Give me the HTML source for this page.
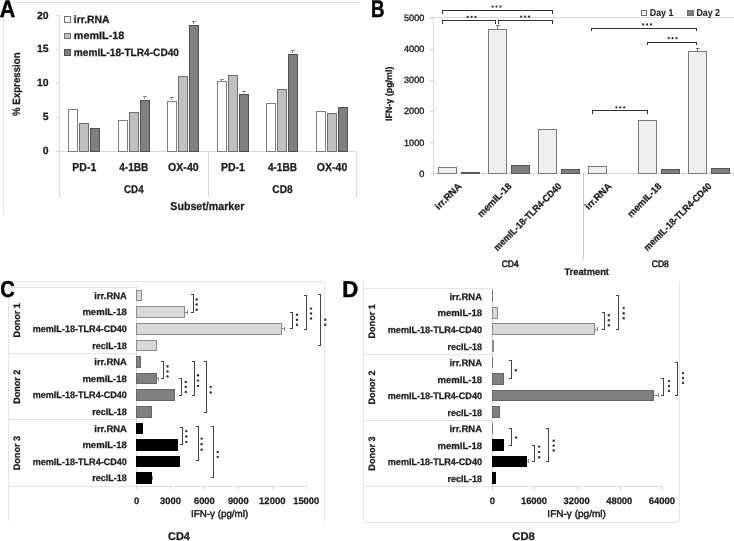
<!DOCTYPE html>
<html><head><meta charset="utf-8"><style>
html,body{margin:0;padding:0;background:#fff;}
body{width:734px;height:541px;overflow:hidden;}
svg{display:block;filter:blur(0.3px);font-family:"Liberation Sans", sans-serif;}
</style></head><body>
<svg width="734" height="541" viewBox="0 0 734 541" shape-rendering="crispEdges" text-rendering="geometricPrecision">
<rect width="734" height="541" fill="#fff"/>
<line x1="3.50" y1="2.50" x2="360.00" y2="2.50" stroke="#e4e4e4" stroke-width="1"/>
<line x1="3.50" y1="2.50" x2="3.50" y2="215.00" stroke="#e4e4e4" stroke-width="1"/>
<line x1="59.50" y1="15.30" x2="59.50" y2="151.10" stroke="#d9d9d9" stroke-width="1"/>
<line x1="55.50" y1="151.10" x2="59.50" y2="151.10" stroke="#d9d9d9" stroke-width="1"/>
<text x="48.60" y="154.30" font-size="10.4" font-weight="bold" text-anchor="end" fill="#1a1a1a" stroke="#1a1a1a" stroke-width="0.25">0</text>
<line x1="55.50" y1="117.15" x2="59.50" y2="117.15" stroke="#d9d9d9" stroke-width="1"/>
<text x="48.60" y="120.35" font-size="10.4" font-weight="bold" text-anchor="end" fill="#1a1a1a" stroke="#1a1a1a" stroke-width="0.25">5</text>
<line x1="55.50" y1="83.20" x2="59.50" y2="83.20" stroke="#d9d9d9" stroke-width="1"/>
<text x="48.60" y="86.40" font-size="10.4" font-weight="bold" text-anchor="end" fill="#1a1a1a" stroke="#1a1a1a" stroke-width="0.25">10</text>
<line x1="55.50" y1="49.25" x2="59.50" y2="49.25" stroke="#d9d9d9" stroke-width="1"/>
<text x="48.60" y="52.45" font-size="10.4" font-weight="bold" text-anchor="end" fill="#1a1a1a" stroke="#1a1a1a" stroke-width="0.25">15</text>
<line x1="55.50" y1="15.30" x2="59.50" y2="15.30" stroke="#d9d9d9" stroke-width="1"/>
<text x="48.60" y="18.50" font-size="10.4" font-weight="bold" text-anchor="end" fill="#1a1a1a" stroke="#1a1a1a" stroke-width="0.25">20</text>
<line x1="55.50" y1="151.10" x2="356.80" y2="151.10" stroke="#d9d9d9" stroke-width="1"/>
<line x1="59.50" y1="151.10" x2="59.50" y2="196.50" stroke="#d9d9d9" stroke-width="1"/>
<line x1="208.15" y1="151.10" x2="208.15" y2="196.50" stroke="#d9d9d9" stroke-width="1"/>
<line x1="356.80" y1="151.10" x2="356.80" y2="196.50" stroke="#d9d9d9" stroke-width="1"/>
<rect x="68.50" y="109.50" width="9.00" height="41.60" fill="#ffffff" stroke="#7f7f7f" stroke-width="1"/>
<rect x="79.50" y="123.50" width="9.00" height="27.60" fill="#c0c0c0" stroke="#6f6f6f" stroke-width="1"/>
<rect x="90.50" y="128.50" width="9.00" height="22.60" fill="#808080" stroke="#505050" stroke-width="1"/>
<rect x="118.50" y="120.50" width="9.00" height="30.60" fill="#ffffff" stroke="#7f7f7f" stroke-width="1"/>
<rect x="129.50" y="112.50" width="9.00" height="38.60" fill="#c0c0c0" stroke="#6f6f6f" stroke-width="1"/>
<rect x="140.50" y="100.50" width="9.00" height="50.60" fill="#808080" stroke="#505050" stroke-width="1"/>
<line x1="144.85" y1="96.46" x2="144.85" y2="99.17" stroke="#8a8a8a" stroke-width="1"/>
<line x1="142.65" y1="96.46" x2="147.05" y2="96.46" stroke="#8a8a8a" stroke-width="1"/>
<rect x="167.50" y="101.50" width="9.00" height="49.60" fill="#ffffff" stroke="#7f7f7f" stroke-width="1"/>
<line x1="171.85" y1="97.48" x2="171.85" y2="100.19" stroke="#8a8a8a" stroke-width="1"/>
<line x1="169.65" y1="97.48" x2="174.05" y2="97.48" stroke="#8a8a8a" stroke-width="1"/>
<rect x="178.50" y="76.50" width="9.00" height="74.60" fill="#c0c0c0" stroke="#6f6f6f" stroke-width="1"/>
<rect x="189.50" y="25.50" width="9.00" height="125.60" fill="#808080" stroke="#505050" stroke-width="1"/>
<line x1="193.85" y1="21.43" x2="193.85" y2="24.48" stroke="#8a8a8a" stroke-width="1"/>
<line x1="191.65" y1="21.43" x2="196.05" y2="21.43" stroke="#8a8a8a" stroke-width="1"/>
<rect x="217.50" y="81.50" width="9.00" height="69.60" fill="#ffffff" stroke="#7f7f7f" stroke-width="1"/>
<line x1="221.85" y1="79.14" x2="221.85" y2="80.84" stroke="#8a8a8a" stroke-width="1"/>
<line x1="219.65" y1="79.14" x2="224.05" y2="79.14" stroke="#8a8a8a" stroke-width="1"/>
<rect x="228.50" y="75.50" width="9.00" height="75.60" fill="#c0c0c0" stroke="#6f6f6f" stroke-width="1"/>
<rect x="239.50" y="94.50" width="9.00" height="56.60" fill="#808080" stroke="#505050" stroke-width="1"/>
<line x1="243.85" y1="91.37" x2="243.85" y2="93.06" stroke="#8a8a8a" stroke-width="1"/>
<line x1="241.65" y1="91.37" x2="246.05" y2="91.37" stroke="#8a8a8a" stroke-width="1"/>
<rect x="266.50" y="103.50" width="9.00" height="47.60" fill="#ffffff" stroke="#7f7f7f" stroke-width="1"/>
<rect x="277.50" y="89.50" width="9.00" height="61.60" fill="#c0c0c0" stroke="#6f6f6f" stroke-width="1"/>
<rect x="288.50" y="54.50" width="9.00" height="96.60" fill="#808080" stroke="#505050" stroke-width="1"/>
<line x1="292.85" y1="50.97" x2="292.85" y2="53.00" stroke="#8a8a8a" stroke-width="1"/>
<line x1="290.65" y1="50.97" x2="295.05" y2="50.97" stroke="#8a8a8a" stroke-width="1"/>
<rect x="316.50" y="111.50" width="9.00" height="39.60" fill="#ffffff" stroke="#7f7f7f" stroke-width="1"/>
<rect x="327.50" y="113.50" width="9.00" height="37.60" fill="#c0c0c0" stroke="#6f6f6f" stroke-width="1"/>
<rect x="338.50" y="107.50" width="9.00" height="43.60" fill="#808080" stroke="#505050" stroke-width="1"/>
<text x="84.28" y="170.60" font-size="11.6" font-weight="bold" text-anchor="middle" fill="#1a1a1a" textLength="23.90" lengthAdjust="spacingAndGlyphs" stroke="#1a1a1a" stroke-width="0.25">PD-1</text>
<text x="133.82" y="170.60" font-size="11.6" font-weight="bold" text-anchor="middle" fill="#1a1a1a" textLength="29.20" lengthAdjust="spacingAndGlyphs" stroke="#1a1a1a" stroke-width="0.25">4-1BB</text>
<text x="183.38" y="170.60" font-size="11.6" font-weight="bold" text-anchor="middle" fill="#1a1a1a" textLength="30.60" lengthAdjust="spacingAndGlyphs" stroke="#1a1a1a" stroke-width="0.25">OX-40</text>
<text x="232.92" y="170.60" font-size="11.6" font-weight="bold" text-anchor="middle" fill="#1a1a1a" textLength="23.90" lengthAdjust="spacingAndGlyphs" stroke="#1a1a1a" stroke-width="0.25">PD-1</text>
<text x="282.48" y="170.60" font-size="11.6" font-weight="bold" text-anchor="middle" fill="#1a1a1a" textLength="29.20" lengthAdjust="spacingAndGlyphs" stroke="#1a1a1a" stroke-width="0.25">4-1BB</text>
<text x="332.02" y="170.60" font-size="11.6" font-weight="bold" text-anchor="middle" fill="#1a1a1a" textLength="30.60" lengthAdjust="spacingAndGlyphs" stroke="#1a1a1a" stroke-width="0.25">OX-40</text>
<text x="133.82" y="193.10" font-size="11.2" font-weight="bold" text-anchor="middle" fill="#1a1a1a" textLength="19.50" lengthAdjust="spacingAndGlyphs" stroke="#1a1a1a" stroke-width="0.25">CD4</text>
<text x="282.48" y="193.10" font-size="11.2" font-weight="bold" text-anchor="middle" fill="#1a1a1a" textLength="20.30" lengthAdjust="spacingAndGlyphs" stroke="#1a1a1a" stroke-width="0.25">CD8</text>
<text x="207.30" y="210.10" font-size="11.4" font-weight="bold" text-anchor="middle" fill="#1a1a1a" textLength="74.00" lengthAdjust="spacingAndGlyphs" stroke="#1a1a1a" stroke-width="0.25">Subset/marker</text>
<text x="19.60" y="84.20" font-size="10.6" font-weight="bold" text-anchor="middle" fill="#1a1a1a" textLength="63.50" lengthAdjust="spacingAndGlyphs" transform="rotate(-90 19.60 84.20)" stroke="#1a1a1a" stroke-width="0.25">% Expression</text>
<rect x="64.70" y="16.40" width="5.60" height="5.60" fill="#ffffff" stroke="#6f6f6f" stroke-width="1"/>
<text x="73.80" y="22.70" font-size="10.6" font-weight="bold" text-anchor="start" fill="#1a1a1a" textLength="35.80" lengthAdjust="spacingAndGlyphs" stroke="#1a1a1a" stroke-width="0.25">irr.RNA</text>
<rect x="64.70" y="33.15" width="5.60" height="5.60" fill="#c0c0c0" stroke="#6f6f6f" stroke-width="1"/>
<text x="73.80" y="39.45" font-size="10.6" font-weight="bold" text-anchor="start" fill="#1a1a1a" textLength="50.50" lengthAdjust="spacingAndGlyphs" stroke="#1a1a1a" stroke-width="0.25">memIL-18</text>
<rect x="64.70" y="49.90" width="5.60" height="5.60" fill="#808080" stroke="#505050" stroke-width="1"/>
<text x="73.80" y="56.20" font-size="10.6" font-weight="bold" text-anchor="start" fill="#1a1a1a" textLength="105.20" lengthAdjust="spacingAndGlyphs" stroke="#1a1a1a" stroke-width="0.25">memIL-18-TLR4-CD40</text>
<line x1="430.00" y1="17.80" x2="734.00" y2="17.80" stroke="#d9d9d9" stroke-width="1"/>
<line x1="433.80" y1="17.80" x2="433.80" y2="173.30" stroke="#d9d9d9" stroke-width="1"/>
<line x1="429.80" y1="173.30" x2="433.80" y2="173.30" stroke="#d9d9d9" stroke-width="1"/>
<text x="424.30" y="176.60" font-size="9.2" font-weight="normal" text-anchor="end" fill="#1a1a1a" stroke="#1a1a1a" stroke-width="0.35">0</text>
<line x1="429.80" y1="142.24" x2="433.80" y2="142.24" stroke="#d9d9d9" stroke-width="1"/>
<text x="424.30" y="145.54" font-size="9.2" font-weight="normal" text-anchor="end" fill="#1a1a1a" textLength="20.30" lengthAdjust="spacingAndGlyphs" stroke="#1a1a1a" stroke-width="0.35">1000</text>
<line x1="429.80" y1="111.18" x2="433.80" y2="111.18" stroke="#d9d9d9" stroke-width="1"/>
<text x="424.30" y="114.48" font-size="9.2" font-weight="normal" text-anchor="end" fill="#1a1a1a" textLength="20.30" lengthAdjust="spacingAndGlyphs" stroke="#1a1a1a" stroke-width="0.35">2000</text>
<line x1="429.80" y1="80.12" x2="433.80" y2="80.12" stroke="#d9d9d9" stroke-width="1"/>
<text x="424.30" y="83.42" font-size="9.2" font-weight="normal" text-anchor="end" fill="#1a1a1a" textLength="20.30" lengthAdjust="spacingAndGlyphs" stroke="#1a1a1a" stroke-width="0.35">3000</text>
<line x1="429.80" y1="49.06" x2="433.80" y2="49.06" stroke="#d9d9d9" stroke-width="1"/>
<text x="424.30" y="52.36" font-size="9.2" font-weight="normal" text-anchor="end" fill="#1a1a1a" textLength="20.30" lengthAdjust="spacingAndGlyphs" stroke="#1a1a1a" stroke-width="0.35">4000</text>
<line x1="429.80" y1="18.00" x2="433.80" y2="18.00" stroke="#d9d9d9" stroke-width="1"/>
<text x="424.30" y="21.30" font-size="9.2" font-weight="normal" text-anchor="end" fill="#1a1a1a" textLength="20.30" lengthAdjust="spacingAndGlyphs" stroke="#1a1a1a" stroke-width="0.35">5000</text>
<line x1="431.00" y1="173.30" x2="734.00" y2="173.30" stroke="#d9d9d9" stroke-width="1"/>
<line x1="433.80" y1="173.30" x2="433.80" y2="176.30" stroke="#d9d9d9" stroke-width="1"/>
<line x1="483.80" y1="173.30" x2="483.80" y2="176.30" stroke="#d9d9d9" stroke-width="1"/>
<line x1="533.80" y1="173.30" x2="533.80" y2="176.30" stroke="#d9d9d9" stroke-width="1"/>
<line x1="583.80" y1="173.30" x2="583.80" y2="260.00" stroke="#c8c8c8" stroke-width="1"/>
<line x1="633.80" y1="173.30" x2="633.80" y2="176.30" stroke="#d9d9d9" stroke-width="1"/>
<line x1="683.80" y1="173.30" x2="683.80" y2="176.30" stroke="#d9d9d9" stroke-width="1"/>
<line x1="733.80" y1="173.30" x2="733.80" y2="176.30" stroke="#d9d9d9" stroke-width="1"/>
<rect x="438.90" y="167.90" width="17.80" height="5.40" fill="#f0f0f0" stroke="#7a7a7a" stroke-width="1"/>
<rect x="461.70" y="172.56" width="17.80" height="0.74" fill="#7f7f7f" stroke="#555555" stroke-width="1"/>
<rect x="488.90" y="29.68" width="17.80" height="143.62" fill="#f0f0f0" stroke="#7a7a7a" stroke-width="1"/>
<line x1="497.80" y1="25.77" x2="497.80" y2="29.18" stroke="#777" stroke-width="1"/>
<line x1="495.60" y1="25.77" x2="500.00" y2="25.77" stroke="#777" stroke-width="1"/>
<rect x="511.70" y="165.72" width="17.80" height="7.58" fill="#7f7f7f" stroke="#555555" stroke-width="1"/>
<rect x="538.90" y="129.91" width="17.80" height="43.39" fill="#f0f0f0" stroke="#7a7a7a" stroke-width="1"/>
<rect x="561.70" y="169.61" width="17.80" height="3.69" fill="#7f7f7f" stroke="#555555" stroke-width="1"/>
<rect x="588.90" y="166.59" width="17.80" height="6.71" fill="#f0f0f0" stroke="#7a7a7a" stroke-width="1"/>
<rect x="638.90" y="120.90" width="17.80" height="52.40" fill="#f0f0f0" stroke="#7a7a7a" stroke-width="1"/>
<rect x="661.70" y="169.70" width="17.80" height="3.60" fill="#7f7f7f" stroke="#555555" stroke-width="1"/>
<rect x="688.90" y="51.80" width="17.80" height="121.50" fill="#f0f0f0" stroke="#7a7a7a" stroke-width="1"/>
<line x1="697.80" y1="48.50" x2="697.80" y2="51.30" stroke="#777" stroke-width="1"/>
<line x1="695.60" y1="48.50" x2="700.00" y2="48.50" stroke="#777" stroke-width="1"/>
<rect x="711.70" y="168.30" width="17.80" height="5.00" fill="#7f7f7f" stroke="#555555" stroke-width="1"/>
<text x="462.10" y="186.90" font-size="9.6" font-weight="bold" text-anchor="end" fill="#1a1a1a" textLength="33.00" lengthAdjust="spacingAndGlyphs" transform="rotate(-45 462.10 186.90)" stroke="#1a1a1a" stroke-width="0.25">irr.RNA</text>
<text x="512.10" y="186.90" font-size="9.6" font-weight="bold" text-anchor="end" fill="#1a1a1a" textLength="43.50" lengthAdjust="spacingAndGlyphs" transform="rotate(-45 512.10 186.90)" stroke="#1a1a1a" stroke-width="0.25">memIL-18</text>
<text x="562.10" y="186.90" font-size="9.6" font-weight="bold" text-anchor="end" fill="#1a1a1a" textLength="91.20" lengthAdjust="spacingAndGlyphs" transform="rotate(-45 562.10 186.90)" stroke="#1a1a1a" stroke-width="0.25">memIL-18-TLR4-CD40</text>
<text x="612.10" y="186.90" font-size="9.6" font-weight="bold" text-anchor="end" fill="#1a1a1a" textLength="33.00" lengthAdjust="spacingAndGlyphs" transform="rotate(-45 612.10 186.90)" stroke="#1a1a1a" stroke-width="0.25">irr.RNA</text>
<text x="662.10" y="186.90" font-size="9.6" font-weight="bold" text-anchor="end" fill="#1a1a1a" textLength="43.50" lengthAdjust="spacingAndGlyphs" transform="rotate(-45 662.10 186.90)" stroke="#1a1a1a" stroke-width="0.25">memIL-18</text>
<text x="712.10" y="186.90" font-size="9.6" font-weight="bold" text-anchor="end" fill="#1a1a1a" textLength="91.20" lengthAdjust="spacingAndGlyphs" transform="rotate(-45 712.10 186.90)" stroke="#1a1a1a" stroke-width="0.25">memIL-18-TLR4-CD40</text>
<text x="510.20" y="267.20" font-size="9.4" font-weight="normal" text-anchor="middle" fill="#1a1a1a" textLength="16.80" lengthAdjust="spacingAndGlyphs" stroke="#1a1a1a" stroke-width="0.55">CD4</text>
<text x="660.30" y="267.00" font-size="9.4" font-weight="normal" text-anchor="middle" fill="#1a1a1a" textLength="17.00" lengthAdjust="spacingAndGlyphs" stroke="#1a1a1a" stroke-width="0.55">CD8</text>
<text x="586.70" y="274.80" font-size="9.6" font-weight="bold" text-anchor="middle" fill="#1a1a1a" textLength="44.50" lengthAdjust="spacingAndGlyphs" stroke="#1a1a1a" stroke-width="0.25">Treatment</text>
<text x="392.00" y="93.80" font-size="9.2" font-weight="bold" text-anchor="middle" fill="#1a1a1a" textLength="54.50" lengthAdjust="spacingAndGlyphs" transform="rotate(-90 392.00 93.80)" stroke="#1a1a1a" stroke-width="0.25">IFN-γ (pg/ml)</text>
<rect x="641.60" y="10.00" width="5.20" height="5.20" fill="#f5f5f5" stroke="#6a6a6a" stroke-width="1"/>
<text x="649.80" y="15.60" font-size="10.0" font-weight="bold" text-anchor="start" fill="#1a1a1a" textLength="23.60" lengthAdjust="spacingAndGlyphs" stroke="#1a1a1a" stroke-width="0.05">Day 1</text>
<rect x="687.70" y="10.00" width="5.60" height="5.20" fill="#7f7f7f" stroke="#707070" stroke-width="1"/>
<text x="696.40" y="15.60" font-size="10.0" font-weight="bold" text-anchor="start" fill="#1a1a1a" textLength="23.60" lengthAdjust="spacingAndGlyphs" stroke="#1a1a1a" stroke-width="0.05">Day 2</text>
<path d="M442.50 13.50V10.50H552.10V13.50" fill="none" stroke="#333" stroke-width="1"/>
<circle cx="492.60" cy="6.60" r="1.15" fill="#333" shape-rendering="geometricPrecision"/>
<circle cx="496.50" cy="6.60" r="1.15" fill="#333" shape-rendering="geometricPrecision"/>
<circle cx="500.40" cy="6.60" r="1.15" fill="#333" shape-rendering="geometricPrecision"/>
<path d="M442.50 23.60V20.60H495.70V23.60" fill="none" stroke="#333" stroke-width="1"/>
<circle cx="467.70" cy="16.90" r="1.15" fill="#333" shape-rendering="geometricPrecision"/>
<circle cx="471.60" cy="16.90" r="1.15" fill="#333" shape-rendering="geometricPrecision"/>
<circle cx="475.50" cy="16.90" r="1.15" fill="#333" shape-rendering="geometricPrecision"/>
<path d="M498.50 23.50V20.50H552.10V23.50" fill="none" stroke="#333" stroke-width="1"/>
<circle cx="521.20" cy="16.70" r="1.15" fill="#333" shape-rendering="geometricPrecision"/>
<circle cx="525.10" cy="16.70" r="1.15" fill="#333" shape-rendering="geometricPrecision"/>
<circle cx="529.00" cy="16.70" r="1.15" fill="#333" shape-rendering="geometricPrecision"/>
<path d="M591.40 31.40V28.40H696.60V31.40" fill="none" stroke="#333" stroke-width="1"/>
<circle cx="643.20" cy="24.50" r="1.15" fill="#333" shape-rendering="geometricPrecision"/>
<circle cx="647.10" cy="24.50" r="1.15" fill="#333" shape-rendering="geometricPrecision"/>
<circle cx="651.00" cy="24.50" r="1.15" fill="#333" shape-rendering="geometricPrecision"/>
<path d="M647.80 45.00V42.00H696.60V45.00" fill="none" stroke="#333" stroke-width="1"/>
<circle cx="668.70" cy="38.20" r="1.15" fill="#333" shape-rendering="geometricPrecision"/>
<circle cx="672.60" cy="38.20" r="1.15" fill="#333" shape-rendering="geometricPrecision"/>
<circle cx="676.50" cy="38.20" r="1.15" fill="#333" shape-rendering="geometricPrecision"/>
<path d="M592.60 113.90V110.90H647.80V113.90" fill="none" stroke="#333" stroke-width="1"/>
<circle cx="616.40" cy="107.40" r="1.15" fill="#333" shape-rendering="geometricPrecision"/>
<circle cx="620.30" cy="107.40" r="1.15" fill="#333" shape-rendering="geometricPrecision"/>
<circle cx="624.20" cy="107.40" r="1.15" fill="#333" shape-rendering="geometricPrecision"/>
<line x1="8.50" y1="281.70" x2="324.00" y2="281.70" stroke="#e6e6e6" stroke-width="1"/>
<line x1="8.50" y1="281.70" x2="8.50" y2="521.30" stroke="#e6e6e6" stroke-width="1"/>
<line x1="324.00" y1="281.70" x2="324.00" y2="521.30" stroke="#e6e6e6" stroke-width="1"/>
<line x1="8.50" y1="287.10" x2="136.50" y2="287.10" stroke="#e6e6e6" stroke-width="1"/>
<line x1="8.50" y1="353.50" x2="136.50" y2="353.50" stroke="#e6e6e6" stroke-width="1"/>
<line x1="8.50" y1="419.90" x2="136.50" y2="419.90" stroke="#e6e6e6" stroke-width="1"/>
<line x1="8.50" y1="486.30" x2="136.50" y2="486.30" stroke="#e6e6e6" stroke-width="1"/>
<line x1="136.50" y1="287.10" x2="136.50" y2="486.30" stroke="#d9d9d9" stroke-width="1"/>
<line x1="136.50" y1="486.30" x2="306.20" y2="486.30" stroke="#d9d9d9" stroke-width="1"/>
<line x1="136.50" y1="486.30" x2="136.50" y2="489.30" stroke="#d9d9d9" stroke-width="1"/>
<text x="136.50" y="503.70" font-size="9.4" font-weight="bold" text-anchor="middle" fill="#1a1a1a" stroke="#1a1a1a" stroke-width="0.25">0</text>
<line x1="170.44" y1="486.30" x2="170.44" y2="489.30" stroke="#d9d9d9" stroke-width="1"/>
<text x="170.44" y="503.70" font-size="9.4" font-weight="bold" text-anchor="middle" fill="#1a1a1a" textLength="20.80" lengthAdjust="spacingAndGlyphs" stroke="#1a1a1a" stroke-width="0.25">3000</text>
<line x1="204.38" y1="486.30" x2="204.38" y2="489.30" stroke="#d9d9d9" stroke-width="1"/>
<text x="204.38" y="503.70" font-size="9.4" font-weight="bold" text-anchor="middle" fill="#1a1a1a" textLength="20.80" lengthAdjust="spacingAndGlyphs" stroke="#1a1a1a" stroke-width="0.25">6000</text>
<line x1="238.32" y1="486.30" x2="238.32" y2="489.30" stroke="#d9d9d9" stroke-width="1"/>
<text x="238.32" y="503.70" font-size="9.4" font-weight="bold" text-anchor="middle" fill="#1a1a1a" textLength="20.80" lengthAdjust="spacingAndGlyphs" stroke="#1a1a1a" stroke-width="0.25">9000</text>
<line x1="272.26" y1="486.30" x2="272.26" y2="489.30" stroke="#d9d9d9" stroke-width="1"/>
<text x="272.26" y="503.70" font-size="9.4" font-weight="bold" text-anchor="middle" fill="#1a1a1a" textLength="26.30" lengthAdjust="spacingAndGlyphs" stroke="#1a1a1a" stroke-width="0.25">12000</text>
<line x1="306.20" y1="486.30" x2="306.20" y2="489.30" stroke="#d9d9d9" stroke-width="1"/>
<text x="306.20" y="503.70" font-size="9.4" font-weight="bold" text-anchor="middle" fill="#1a1a1a" textLength="26.00" lengthAdjust="spacingAndGlyphs" stroke="#1a1a1a" stroke-width="0.25">15000</text>
<text x="219.60" y="517.00" font-size="9.8" font-weight="normal" text-anchor="middle" fill="#1a1a1a" textLength="57.20" lengthAdjust="spacingAndGlyphs" stroke="#1a1a1a" stroke-width="0.45">IFN-γ (pg/ml)</text>
<text x="19.60" y="320.30" font-size="9.4" font-weight="bold" text-anchor="middle" fill="#1a1a1a" textLength="34.20" lengthAdjust="spacingAndGlyphs" transform="rotate(-90 19.60 320.30)" stroke="#1a1a1a" stroke-width="0.25">Donor 1</text>
<text x="126.90" y="298.80" font-size="9.4" font-weight="bold" text-anchor="end" fill="#1a1a1a" textLength="32.60" lengthAdjust="spacingAndGlyphs" stroke="#1a1a1a" stroke-width="0.25">irr.RNA</text>
<rect x="136.50" y="290.20" width="4.60" height="10.60" fill="#d9d9d9" stroke="#8a8a8a" stroke-width="1"/>
<text x="126.90" y="315.40" font-size="9.4" font-weight="bold" text-anchor="end" fill="#1a1a1a" textLength="44.50" lengthAdjust="spacingAndGlyphs" stroke="#1a1a1a" stroke-width="0.25">memIL-18</text>
<rect x="136.50" y="306.80" width="47.90" height="10.60" fill="#d9d9d9" stroke="#8a8a8a" stroke-width="1"/>
<line x1="184.90" y1="312.10" x2="187.16" y2="312.10" stroke="#888" stroke-width="1"/>
<line x1="187.16" y1="310.10" x2="187.16" y2="314.10" stroke="#888" stroke-width="1"/>
<text x="126.90" y="332.00" font-size="9.4" font-weight="bold" text-anchor="end" fill="#1a1a1a" textLength="94.20" lengthAdjust="spacingAndGlyphs" stroke="#1a1a1a" stroke-width="0.25">memIL-18-TLR4-CD40</text>
<rect x="136.50" y="323.40" width="145.41" height="10.60" fill="#d9d9d9" stroke="#8a8a8a" stroke-width="1"/>
<line x1="282.41" y1="328.70" x2="284.67" y2="328.70" stroke="#888" stroke-width="1"/>
<line x1="284.67" y1="326.70" x2="284.67" y2="330.70" stroke="#888" stroke-width="1"/>
<text x="126.90" y="348.60" font-size="9.4" font-weight="bold" text-anchor="end" fill="#1a1a1a" textLength="34.60" lengthAdjust="spacingAndGlyphs" stroke="#1a1a1a" stroke-width="0.25">recIL-18</text>
<rect x="136.50" y="340.00" width="20.00" height="10.60" fill="#d9d9d9" stroke="#8a8a8a" stroke-width="1"/>
<text x="19.60" y="386.70" font-size="9.4" font-weight="bold" text-anchor="middle" fill="#1a1a1a" textLength="34.20" lengthAdjust="spacingAndGlyphs" transform="rotate(-90 19.60 386.70)" stroke="#1a1a1a" stroke-width="0.25">Donor 2</text>
<text x="126.90" y="365.20" font-size="9.4" font-weight="bold" text-anchor="end" fill="#1a1a1a" textLength="32.60" lengthAdjust="spacingAndGlyphs" stroke="#1a1a1a" stroke-width="0.25">irr.RNA</text>
<rect x="136.50" y="356.60" width="3.80" height="10.60" fill="#808080" stroke="#666666" stroke-width="1"/>
<text x="126.90" y="381.80" font-size="9.4" font-weight="bold" text-anchor="end" fill="#1a1a1a" textLength="44.50" lengthAdjust="spacingAndGlyphs" stroke="#1a1a1a" stroke-width="0.25">memIL-18</text>
<rect x="136.50" y="373.20" width="20.00" height="10.60" fill="#808080" stroke="#666666" stroke-width="1"/>
<line x1="157.00" y1="378.50" x2="158.13" y2="378.50" stroke="#888" stroke-width="1"/>
<line x1="158.13" y1="376.50" x2="158.13" y2="380.50" stroke="#888" stroke-width="1"/>
<text x="126.90" y="398.40" font-size="9.4" font-weight="bold" text-anchor="end" fill="#1a1a1a" textLength="94.20" lengthAdjust="spacingAndGlyphs" stroke="#1a1a1a" stroke-width="0.25">memIL-18-TLR4-CD40</text>
<rect x="136.50" y="389.80" width="38.00" height="10.60" fill="#808080" stroke="#666666" stroke-width="1"/>
<text x="126.90" y="415.00" font-size="9.4" font-weight="bold" text-anchor="end" fill="#1a1a1a" textLength="34.60" lengthAdjust="spacingAndGlyphs" stroke="#1a1a1a" stroke-width="0.25">recIL-18</text>
<rect x="136.50" y="406.40" width="15.00" height="10.60" fill="#808080" stroke="#666666" stroke-width="1"/>
<text x="19.60" y="453.10" font-size="9.4" font-weight="bold" text-anchor="middle" fill="#1a1a1a" textLength="34.20" lengthAdjust="spacingAndGlyphs" transform="rotate(-90 19.60 453.10)" stroke="#1a1a1a" stroke-width="0.25">Donor 3</text>
<text x="126.90" y="431.60" font-size="9.4" font-weight="bold" text-anchor="end" fill="#1a1a1a" textLength="32.60" lengthAdjust="spacingAndGlyphs" stroke="#1a1a1a" stroke-width="0.25">irr.RNA</text>
<rect x="136.50" y="423.00" width="6.30" height="10.60" fill="#000000" stroke="#000000" stroke-width="1"/>
<text x="126.90" y="448.20" font-size="9.4" font-weight="bold" text-anchor="end" fill="#1a1a1a" textLength="44.50" lengthAdjust="spacingAndGlyphs" stroke="#1a1a1a" stroke-width="0.25">memIL-18</text>
<rect x="136.50" y="439.60" width="41.00" height="10.60" fill="#000000" stroke="#000000" stroke-width="1"/>
<text x="126.90" y="464.80" font-size="9.4" font-weight="bold" text-anchor="end" fill="#1a1a1a" textLength="94.20" lengthAdjust="spacingAndGlyphs" stroke="#1a1a1a" stroke-width="0.25">memIL-18-TLR4-CD40</text>
<rect x="136.50" y="456.20" width="43.00" height="10.60" fill="#000000" stroke="#000000" stroke-width="1"/>
<text x="126.90" y="481.40" font-size="9.4" font-weight="bold" text-anchor="end" fill="#1a1a1a" textLength="34.60" lengthAdjust="spacingAndGlyphs" stroke="#1a1a1a" stroke-width="0.25">recIL-18</text>
<rect x="136.50" y="472.80" width="14.71" height="10.60" fill="#000000" stroke="#000000" stroke-width="1"/>
<line x1="151.71" y1="478.10" x2="152.72" y2="478.10" stroke="#888" stroke-width="1"/>
<line x1="152.72" y1="476.10" x2="152.72" y2="480.10" stroke="#888" stroke-width="1"/>
<path d="M190.70 294.70H193.20V312.00H190.70" fill="none" stroke="#444" stroke-width="1"/>
<circle cx="196.70" cy="299.40" r="1.2" fill="#333" shape-rendering="geometricPrecision"/>
<circle cx="196.70" cy="304.55" r="1.2" fill="#333" shape-rendering="geometricPrecision"/>
<circle cx="196.70" cy="309.70" r="1.2" fill="#333" shape-rendering="geometricPrecision"/>
<path d="M290.20 312.00H292.70V328.30H290.20" fill="none" stroke="#444" stroke-width="1"/>
<circle cx="297.00" cy="314.80" r="1.2" fill="#333" shape-rendering="geometricPrecision"/>
<circle cx="297.00" cy="319.75" r="1.2" fill="#333" shape-rendering="geometricPrecision"/>
<circle cx="297.00" cy="324.70" r="1.2" fill="#333" shape-rendering="geometricPrecision"/>
<path d="M304.40 295.00H306.90V329.10H304.40" fill="none" stroke="#444" stroke-width="1"/>
<circle cx="311.00" cy="308.60" r="1.2" fill="#333" shape-rendering="geometricPrecision"/>
<circle cx="311.00" cy="313.55" r="1.2" fill="#333" shape-rendering="geometricPrecision"/>
<circle cx="311.00" cy="318.50" r="1.2" fill="#333" shape-rendering="geometricPrecision"/>
<path d="M318.20 294.10H320.70V345.20H318.20" fill="none" stroke="#444" stroke-width="1"/>
<circle cx="325.20" cy="319.70" r="1.2" fill="#333" shape-rendering="geometricPrecision"/>
<circle cx="325.20" cy="324.70" r="1.2" fill="#333" shape-rendering="geometricPrecision"/>
<path d="M160.50 361.30H163.00V378.60H160.50" fill="none" stroke="#444" stroke-width="1"/>
<circle cx="167.50" cy="366.40" r="1.2" fill="#333" shape-rendering="geometricPrecision"/>
<circle cx="167.50" cy="371.40" r="1.2" fill="#333" shape-rendering="geometricPrecision"/>
<circle cx="167.50" cy="376.40" r="1.2" fill="#333" shape-rendering="geometricPrecision"/>
<path d="M179.10 378.00H181.60V395.00H179.10" fill="none" stroke="#444" stroke-width="1"/>
<circle cx="185.80" cy="381.90" r="1.2" fill="#333" shape-rendering="geometricPrecision"/>
<circle cx="185.80" cy="386.90" r="1.2" fill="#333" shape-rendering="geometricPrecision"/>
<circle cx="185.80" cy="391.90" r="1.2" fill="#333" shape-rendering="geometricPrecision"/>
<path d="M191.50 361.70H194.00V395.00H191.50" fill="none" stroke="#444" stroke-width="1"/>
<circle cx="198.00" cy="375.30" r="1.2" fill="#333" shape-rendering="geometricPrecision"/>
<circle cx="198.00" cy="380.60" r="1.2" fill="#333" shape-rendering="geometricPrecision"/>
<circle cx="198.00" cy="385.90" r="1.2" fill="#333" shape-rendering="geometricPrecision"/>
<path d="M204.40 361.70H206.90V412.50H204.40" fill="none" stroke="#444" stroke-width="1"/>
<circle cx="210.70" cy="386.90" r="1.2" fill="#333" shape-rendering="geometricPrecision"/>
<circle cx="210.70" cy="392.50" r="1.2" fill="#333" shape-rendering="geometricPrecision"/>
<path d="M180.00 427.20H182.50V444.70H180.00" fill="none" stroke="#444" stroke-width="1"/>
<circle cx="186.30" cy="431.10" r="1.2" fill="#333" shape-rendering="geometricPrecision"/>
<circle cx="186.30" cy="436.50" r="1.2" fill="#333" shape-rendering="geometricPrecision"/>
<circle cx="186.30" cy="441.90" r="1.2" fill="#333" shape-rendering="geometricPrecision"/>
<path d="M195.70 426.30H198.20V460.30H195.70" fill="none" stroke="#444" stroke-width="1"/>
<circle cx="201.60" cy="438.60" r="1.2" fill="#333" shape-rendering="geometricPrecision"/>
<circle cx="201.60" cy="444.15" r="1.2" fill="#333" shape-rendering="geometricPrecision"/>
<circle cx="201.60" cy="449.70" r="1.2" fill="#333" shape-rendering="geometricPrecision"/>
<path d="M210.70 426.70H213.20V477.50H210.70" fill="none" stroke="#444" stroke-width="1"/>
<circle cx="217.70" cy="451.90" r="1.2" fill="#333" shape-rendering="geometricPrecision"/>
<circle cx="217.70" cy="456.90" r="1.2" fill="#333" shape-rendering="geometricPrecision"/>
<text x="179.00" y="539.70" font-size="11.2" font-weight="bold" text-anchor="middle" fill="#1a1a1a" textLength="21.80" lengthAdjust="spacingAndGlyphs" stroke="#1a1a1a" stroke-width="0.25">CD4</text>
<line x1="363.60" y1="281.00" x2="363.60" y2="522.10" stroke="#e6e6e6" stroke-width="1"/>
<line x1="679.40" y1="281.00" x2="679.40" y2="522.10" stroke="#e6e6e6" stroke-width="1"/>
<line x1="363.60" y1="522.10" x2="679.40" y2="522.10" stroke="#e6e6e6" stroke-width="1"/>
<line x1="363.60" y1="288.30" x2="492.30" y2="288.30" stroke="#e6e6e6" stroke-width="1"/>
<line x1="363.60" y1="354.40" x2="492.30" y2="354.40" stroke="#e6e6e6" stroke-width="1"/>
<line x1="363.60" y1="420.50" x2="492.30" y2="420.50" stroke="#e6e6e6" stroke-width="1"/>
<line x1="363.60" y1="486.60" x2="492.30" y2="486.60" stroke="#e6e6e6" stroke-width="1"/>
<line x1="492.30" y1="288.30" x2="492.30" y2="486.60" stroke="#d9d9d9" stroke-width="1"/>
<line x1="492.30" y1="486.60" x2="662.90" y2="486.60" stroke="#d9d9d9" stroke-width="1"/>
<line x1="492.30" y1="486.60" x2="492.30" y2="489.60" stroke="#d9d9d9" stroke-width="1"/>
<text x="492.30" y="503.70" font-size="9.4" font-weight="bold" text-anchor="middle" fill="#1a1a1a" stroke="#1a1a1a" stroke-width="0.25">0</text>
<line x1="534.95" y1="486.60" x2="534.95" y2="489.60" stroke="#d9d9d9" stroke-width="1"/>
<text x="533.95" y="503.70" font-size="9.4" font-weight="bold" text-anchor="middle" fill="#1a1a1a" textLength="26.00" lengthAdjust="spacingAndGlyphs" stroke="#1a1a1a" stroke-width="0.25">16000</text>
<line x1="577.60" y1="486.60" x2="577.60" y2="489.60" stroke="#d9d9d9" stroke-width="1"/>
<text x="576.60" y="503.70" font-size="9.4" font-weight="bold" text-anchor="middle" fill="#1a1a1a" textLength="26.00" lengthAdjust="spacingAndGlyphs" stroke="#1a1a1a" stroke-width="0.25">32000</text>
<line x1="620.25" y1="486.60" x2="620.25" y2="489.60" stroke="#d9d9d9" stroke-width="1"/>
<text x="619.25" y="503.70" font-size="9.4" font-weight="bold" text-anchor="middle" fill="#1a1a1a" textLength="26.00" lengthAdjust="spacingAndGlyphs" stroke="#1a1a1a" stroke-width="0.25">48000</text>
<line x1="662.90" y1="486.60" x2="662.90" y2="489.60" stroke="#d9d9d9" stroke-width="1"/>
<text x="661.90" y="503.70" font-size="9.4" font-weight="bold" text-anchor="middle" fill="#1a1a1a" textLength="26.30" lengthAdjust="spacingAndGlyphs" stroke="#1a1a1a" stroke-width="0.25">64000</text>
<text x="576.60" y="517.00" font-size="9.8" font-weight="normal" text-anchor="middle" fill="#1a1a1a" textLength="58.50" lengthAdjust="spacingAndGlyphs" stroke="#1a1a1a" stroke-width="0.45">IFN-γ (pg/ml)</text>
<text x="375.00" y="321.35" font-size="9.4" font-weight="bold" text-anchor="middle" fill="#1a1a1a" textLength="34.20" lengthAdjust="spacingAndGlyphs" transform="rotate(-90 375.00 321.35)" stroke="#1a1a1a" stroke-width="0.25">Donor 1</text>
<text x="482.00" y="299.96" font-size="9.4" font-weight="bold" text-anchor="end" fill="#1a1a1a" textLength="32.60" lengthAdjust="spacingAndGlyphs" stroke="#1a1a1a" stroke-width="0.25">irr.RNA</text>
<line x1="492.80" y1="290.40" x2="492.80" y2="301.70" stroke="#777" stroke-width="1"/>
<text x="482.00" y="316.49" font-size="9.4" font-weight="bold" text-anchor="end" fill="#1a1a1a" textLength="44.50" lengthAdjust="spacingAndGlyphs" stroke="#1a1a1a" stroke-width="0.25">memIL-18</text>
<rect x="492.30" y="307.43" width="4.70" height="10.60" fill="#d9d9d9" stroke="#8a8a8a" stroke-width="1"/>
<text x="482.00" y="333.01" font-size="9.4" font-weight="bold" text-anchor="end" fill="#1a1a1a" textLength="94.20" lengthAdjust="spacingAndGlyphs" stroke="#1a1a1a" stroke-width="0.25">memIL-18-TLR4-CD40</text>
<rect x="492.30" y="323.95" width="101.80" height="10.60" fill="#d9d9d9" stroke="#8a8a8a" stroke-width="1"/>
<line x1="594.60" y1="329.25" x2="597.27" y2="329.25" stroke="#888" stroke-width="1"/>
<line x1="597.27" y1="327.25" x2="597.27" y2="331.25" stroke="#888" stroke-width="1"/>
<text x="482.00" y="349.54" font-size="9.4" font-weight="bold" text-anchor="end" fill="#1a1a1a" textLength="34.60" lengthAdjust="spacingAndGlyphs" stroke="#1a1a1a" stroke-width="0.25">recIL-18</text>
<rect x="492.30" y="340.48" width="0.99" height="10.60" fill="#d9d9d9" stroke="#8a8a8a" stroke-width="1"/>
<text x="375.00" y="387.45" font-size="9.4" font-weight="bold" text-anchor="middle" fill="#1a1a1a" textLength="34.20" lengthAdjust="spacingAndGlyphs" transform="rotate(-90 375.00 387.45)" stroke="#1a1a1a" stroke-width="0.25">Donor 2</text>
<text x="482.00" y="366.06" font-size="9.4" font-weight="bold" text-anchor="end" fill="#1a1a1a" textLength="32.60" lengthAdjust="spacingAndGlyphs" stroke="#1a1a1a" stroke-width="0.25">irr.RNA</text>
<line x1="492.80" y1="356.50" x2="492.80" y2="367.80" stroke="#777" stroke-width="1"/>
<text x="482.00" y="382.59" font-size="9.4" font-weight="bold" text-anchor="end" fill="#1a1a1a" textLength="44.50" lengthAdjust="spacingAndGlyphs" stroke="#1a1a1a" stroke-width="0.25">memIL-18</text>
<rect x="492.30" y="373.53" width="10.80" height="10.60" fill="#808080" stroke="#666666" stroke-width="1"/>
<text x="482.00" y="399.11" font-size="9.4" font-weight="bold" text-anchor="end" fill="#1a1a1a" textLength="94.20" lengthAdjust="spacingAndGlyphs" stroke="#1a1a1a" stroke-width="0.25">memIL-18-TLR4-CD40</text>
<rect x="492.30" y="390.05" width="160.80" height="10.60" fill="#808080" stroke="#666666" stroke-width="1"/>
<line x1="653.60" y1="395.35" x2="658.14" y2="395.35" stroke="#888" stroke-width="1"/>
<line x1="658.14" y1="393.35" x2="658.14" y2="397.35" stroke="#888" stroke-width="1"/>
<text x="482.00" y="415.64" font-size="9.4" font-weight="bold" text-anchor="end" fill="#1a1a1a" textLength="34.60" lengthAdjust="spacingAndGlyphs" stroke="#1a1a1a" stroke-width="0.25">recIL-18</text>
<rect x="492.30" y="406.58" width="6.80" height="10.60" fill="#808080" stroke="#666666" stroke-width="1"/>
<text x="375.00" y="453.55" font-size="9.4" font-weight="bold" text-anchor="middle" fill="#1a1a1a" textLength="34.20" lengthAdjust="spacingAndGlyphs" transform="rotate(-90 375.00 453.55)" stroke="#1a1a1a" stroke-width="0.25">Donor 3</text>
<text x="482.00" y="432.16" font-size="9.4" font-weight="bold" text-anchor="end" fill="#1a1a1a" textLength="32.60" lengthAdjust="spacingAndGlyphs" stroke="#1a1a1a" stroke-width="0.25">irr.RNA</text>
<line x1="492.80" y1="422.60" x2="492.80" y2="433.90" stroke="#777" stroke-width="1"/>
<text x="482.00" y="448.69" font-size="9.4" font-weight="bold" text-anchor="end" fill="#1a1a1a" textLength="44.50" lengthAdjust="spacingAndGlyphs" stroke="#1a1a1a" stroke-width="0.25">memIL-18</text>
<rect x="492.30" y="439.62" width="11.00" height="10.60" fill="#000000" stroke="#000000" stroke-width="1"/>
<text x="482.00" y="465.21" font-size="9.4" font-weight="bold" text-anchor="end" fill="#1a1a1a" textLength="94.20" lengthAdjust="spacingAndGlyphs" stroke="#1a1a1a" stroke-width="0.25">memIL-18-TLR4-CD40</text>
<rect x="492.30" y="456.15" width="33.80" height="10.60" fill="#000000" stroke="#000000" stroke-width="1"/>
<line x1="526.60" y1="461.45" x2="528.20" y2="461.45" stroke="#888" stroke-width="1"/>
<line x1="528.20" y1="459.45" x2="528.20" y2="463.45" stroke="#888" stroke-width="1"/>
<text x="482.00" y="481.74" font-size="9.4" font-weight="bold" text-anchor="end" fill="#1a1a1a" textLength="34.60" lengthAdjust="spacingAndGlyphs" stroke="#1a1a1a" stroke-width="0.25">recIL-18</text>
<rect x="492.30" y="472.68" width="3.50" height="10.60" fill="#000000" stroke="#000000" stroke-width="1"/>
<path d="M601.60 312.50H604.10V329.10H601.60" fill="none" stroke="#444" stroke-width="1"/>
<circle cx="608.80" cy="315.20" r="1.2" fill="#333" shape-rendering="geometricPrecision"/>
<circle cx="608.80" cy="320.20" r="1.2" fill="#333" shape-rendering="geometricPrecision"/>
<circle cx="608.80" cy="325.20" r="1.2" fill="#333" shape-rendering="geometricPrecision"/>
<path d="M615.80 295.80H618.30V329.10H615.80" fill="none" stroke="#444" stroke-width="1"/>
<circle cx="623.70" cy="308.10" r="1.2" fill="#333" shape-rendering="geometricPrecision"/>
<circle cx="623.70" cy="313.20" r="1.2" fill="#333" shape-rendering="geometricPrecision"/>
<circle cx="623.70" cy="318.30" r="1.2" fill="#333" shape-rendering="geometricPrecision"/>
<path d="M508.80 360.30H511.30V378.30H508.80" fill="none" stroke="#444" stroke-width="1"/>
<circle cx="515.80" cy="370.30" r="1.2" fill="#333" shape-rendering="geometricPrecision"/>
<path d="M660.90 378.60H663.40V395.30H660.90" fill="none" stroke="#444" stroke-width="1"/>
<circle cx="669.00" cy="381.10" r="1.2" fill="#333" shape-rendering="geometricPrecision"/>
<circle cx="669.00" cy="386.00" r="1.2" fill="#333" shape-rendering="geometricPrecision"/>
<circle cx="669.00" cy="390.90" r="1.2" fill="#333" shape-rendering="geometricPrecision"/>
<path d="M675.30 362.20H677.80V395.80H675.30" fill="none" stroke="#444" stroke-width="1"/>
<circle cx="683.00" cy="373.10" r="1.2" fill="#333" shape-rendering="geometricPrecision"/>
<circle cx="683.00" cy="378.00" r="1.2" fill="#333" shape-rendering="geometricPrecision"/>
<circle cx="683.00" cy="382.90" r="1.2" fill="#333" shape-rendering="geometricPrecision"/>
<path d="M508.80 428.00H511.30V445.30H508.80" fill="none" stroke="#444" stroke-width="1"/>
<circle cx="516.10" cy="437.50" r="1.2" fill="#333" shape-rendering="geometricPrecision"/>
<path d="M531.60 445.00H534.10V461.10H531.60" fill="none" stroke="#444" stroke-width="1"/>
<circle cx="539.10" cy="446.60" r="1.2" fill="#333" shape-rendering="geometricPrecision"/>
<circle cx="539.10" cy="451.90" r="1.2" fill="#333" shape-rendering="geometricPrecision"/>
<circle cx="539.10" cy="457.20" r="1.2" fill="#333" shape-rendering="geometricPrecision"/>
<path d="M545.70 428.00H548.20V461.60H545.70" fill="none" stroke="#444" stroke-width="1"/>
<circle cx="553.70" cy="440.70" r="1.2" fill="#333" shape-rendering="geometricPrecision"/>
<circle cx="553.70" cy="445.60" r="1.2" fill="#333" shape-rendering="geometricPrecision"/>
<circle cx="553.70" cy="450.50" r="1.2" fill="#333" shape-rendering="geometricPrecision"/>
<text x="523.60" y="539.70" font-size="11.2" font-weight="bold" text-anchor="middle" fill="#1a1a1a" textLength="22.50" lengthAdjust="spacingAndGlyphs" stroke="#1a1a1a" stroke-width="0.25">CD8</text>
<text x="7.60" y="17.30" font-size="24" font-weight="bold" text-anchor="middle" fill="#000" textLength="15.50" lengthAdjust="spacingAndGlyphs" stroke="#000" stroke-width="0.5">A</text>
<text x="377.80" y="17.30" font-size="24" font-weight="bold" text-anchor="middle" fill="#000" textLength="13.50" lengthAdjust="spacingAndGlyphs" stroke="#000" stroke-width="0.5">B</text>
<text x="7.40" y="297.00" font-size="23" font-weight="bold" text-anchor="middle" fill="#000" textLength="14.50" lengthAdjust="spacingAndGlyphs" stroke="#000" stroke-width="0.5">C</text>
<text x="350.20" y="296.80" font-size="23" font-weight="bold" text-anchor="middle" fill="#000" textLength="16.00" lengthAdjust="spacingAndGlyphs" stroke="#000" stroke-width="0.5">D</text>
</svg></body></html>
